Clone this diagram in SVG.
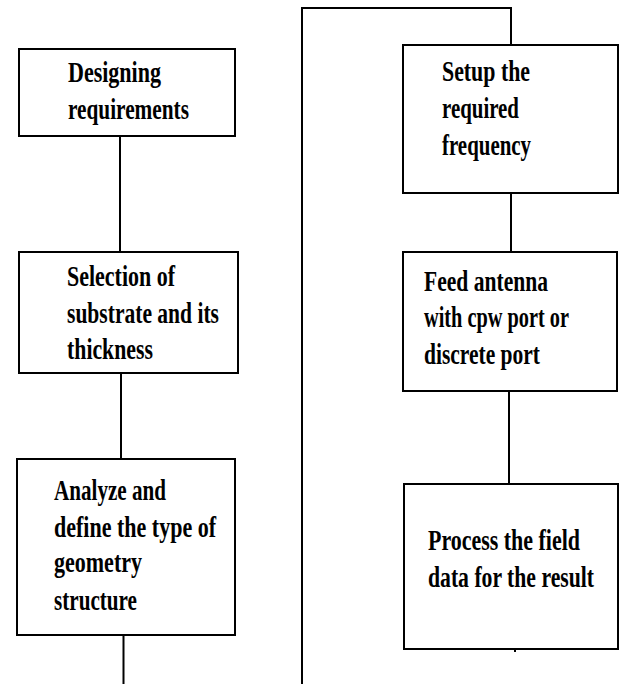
<svg xmlns="http://www.w3.org/2000/svg" width="619" height="684" viewBox="0 0 619 684">
<style>
.box{fill:#fff;stroke:#000;stroke-width:2}
.ln{fill:none;stroke:#000;stroke-width:2}
text{font-family:"Liberation Serif","Times New Roman",serif;font-weight:bold;font-size:30px;fill:#000}
</style>
<rect width="619" height="684" fill="#fff"/>
<g id="connectors">
<line class="ln" x1="120" y1="136" x2="120" y2="252"/>
<line class="ln" x1="121" y1="373" x2="121" y2="459"/>
<line class="ln" x1="123.5" y1="635" x2="123.5" y2="684"/>
<polyline class="ln" points="302,684 302,8 511,8 511,45"/>
<line class="ln" x1="511" y1="193" x2="511" y2="252"/>
<line class="ln" x1="509" y1="391" x2="509" y2="484"/>
<line class="ln" x1="515" y1="649" x2="515" y2="652"/>
</g>
<g id="n1">
<rect class="box" x="19" y="49" width="216" height="87"/>
<text x="68" y="82" textLength="93" lengthAdjust="spacingAndGlyphs">Designing</text>
<text x="68" y="119" textLength="121" lengthAdjust="spacingAndGlyphs">requirements</text>
</g>
<g id="n2">
<rect class="box" x="19" y="252" width="219" height="121"/>
<text x="67" y="286" textLength="108" lengthAdjust="spacingAndGlyphs">Selection of</text>
<text x="67" y="323" textLength="152" lengthAdjust="spacingAndGlyphs">substrate and its</text>
<text x="67" y="359" textLength="86" lengthAdjust="spacingAndGlyphs">thickness</text>
</g>
<g id="n3">
<rect class="box" x="17" y="459" width="218" height="176"/>
<text x="54" y="500" textLength="112" lengthAdjust="spacingAndGlyphs">Analyze and</text>
<text x="54" y="537" textLength="162" lengthAdjust="spacingAndGlyphs">define the type of</text>
<text x="54" y="572" textLength="88" lengthAdjust="spacingAndGlyphs">geometry</text>
<text x="54" y="610" textLength="83" lengthAdjust="spacingAndGlyphs">structure</text>
</g>
<g id="n4">
<rect class="box" x="403" y="45" width="215" height="148"/>
<text x="442" y="81" textLength="88" lengthAdjust="spacingAndGlyphs">Setup the</text>
<text x="442" y="118" textLength="77" lengthAdjust="spacingAndGlyphs">required</text>
<text x="442" y="155" textLength="89" lengthAdjust="spacingAndGlyphs">frequency</text>
</g>
<g id="n5">
<rect class="box" x="403" y="252" width="214" height="139"/>
<text x="424" y="291" textLength="124" lengthAdjust="spacingAndGlyphs">Feed antenna</text>
<text x="424" y="327" textLength="145" lengthAdjust="spacingAndGlyphs">with cpw port or</text>
<text x="424" y="364" textLength="116" lengthAdjust="spacingAndGlyphs">discrete port</text>
</g>
<g id="n6">
<rect class="box" x="404" y="484" width="214" height="165"/>
<text x="428" y="550" textLength="152" lengthAdjust="spacingAndGlyphs">Process the field</text>
<text x="428" y="587" textLength="166" lengthAdjust="spacingAndGlyphs">data for the result</text>
</g>
</svg>
